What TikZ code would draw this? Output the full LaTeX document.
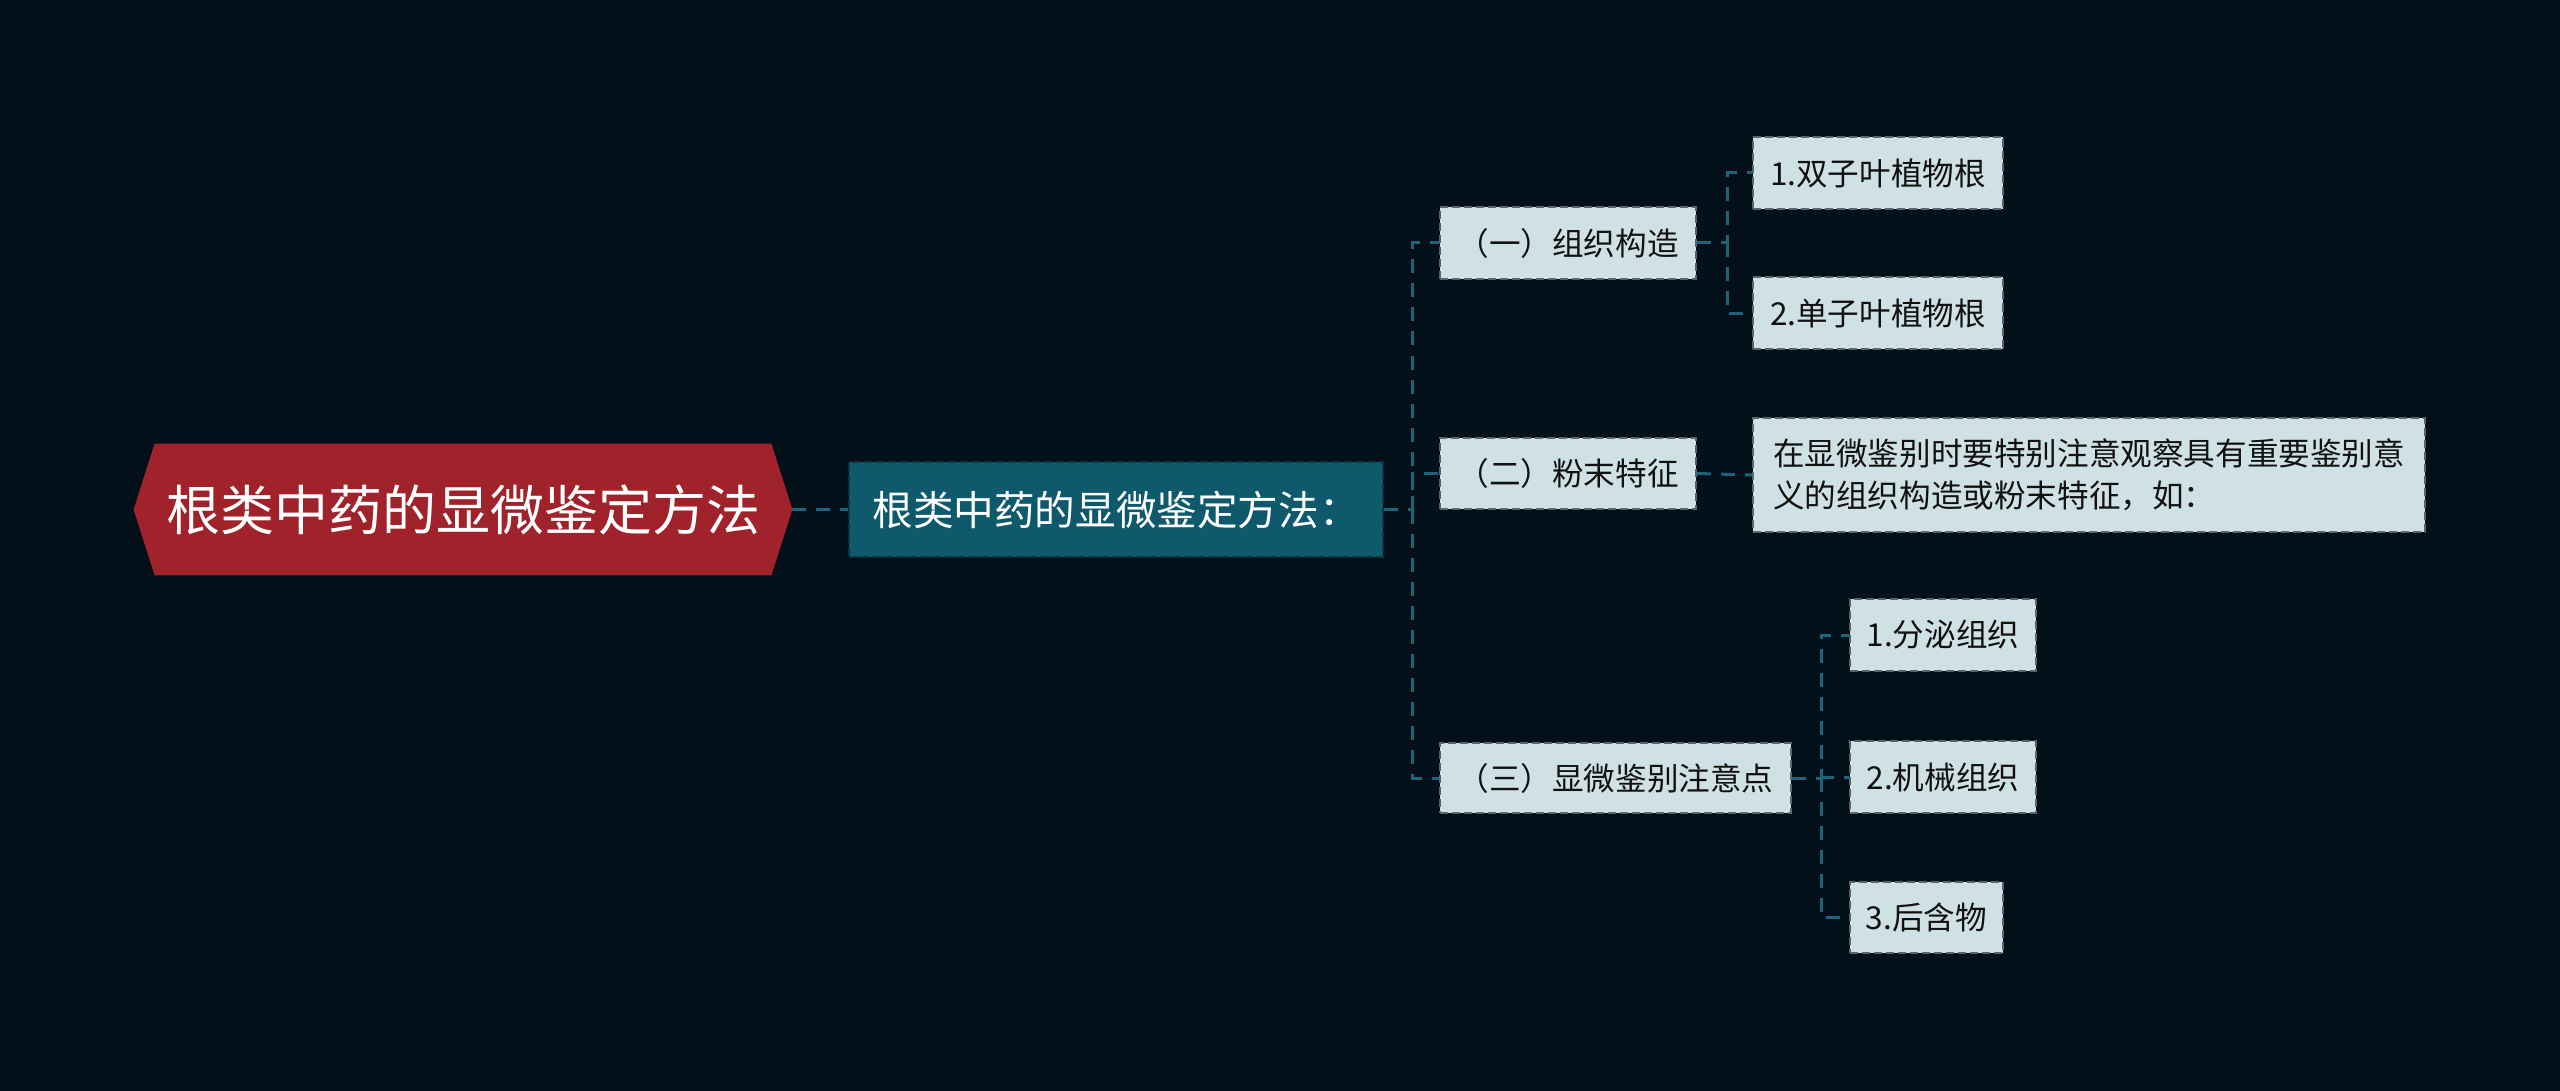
\documentclass[tikz,border=0pt]{standalone}
\usepackage{fontspec}
\setmainfont{Noto Sans CJK SC}
\usetikzlibrary{calc}
\definecolor{bgc}{HTML}{03101A}
\definecolor{rootred}{HTML}{A0222A}
\definecolor{tealfill}{HTML}{0E5A6C}
\definecolor{tealborder}{HTML}{0A3440}
\definecolor{linec}{HTML}{1E6478}
\definecolor{lightfill}{HTML}{D0E1E5}
\definecolor{lightborder}{HTML}{56676C}
\definecolor{darktext}{HTML}{111111}
\tikzset{
  conn/.style={draw=linec, line width=1.5pt, dash pattern=on 7pt off 5pt},
  lightbox/.style={rectangle, fill=lightfill, draw=lightborder, line width=1pt, dash pattern=on 4pt off 2pt, text=darktext, font=\fontsize{15.8pt}{21pt}\selectfont, inner sep=0pt, align=left},
  childbox/.style={rectangle, fill=tealfill, draw=tealborder, line width=1pt, dash pattern=on 4pt off 2pt, text=white, font=\fontsize{20.3pt}{24pt}\selectfont, inner sep=0pt},
  rootbox/.style={rectangle, text=white, font=\fontsize{27pt}{32pt}\selectfont, inner sep=0pt}
}
\begin{document}
\begin{tikzpicture}[x=0.5pt,y=-0.5pt]
\fill[bgc] (0,0) rectangle (2560,1091);
\useasboundingbox (0,0) rectangle (2560,1091);
% root hexagon
\node[rootbox, minimum width=329pt, minimum height=65.5pt] (root) at (463,509.5) {};
\fill[rootred] (root.west) -- ($(root.north west)+(21,0)$) -- ($(root.north east)+(-21,0)$) -- (root.east) -- ($(root.south east)+(-21,0)$) -- ($(root.south west)+(21,0)$) -- cycle;
\node[rootbox] (roottext) at (root.center) {根类中药的显微鉴定方法};
% child
\node[childbox, minimum width=267pt, minimum height=47.5pt] (child) at (1116,509.5) {根类中药的显微鉴定方法：};
% level 2
\node[lightbox, minimum width=128pt, minimum height=36pt] (n1) at (1568,243) {（一）组织构造};
\node[lightbox, minimum width=128pt, minimum height=35.5pt] (n2) at (1568,473.5) {（二）粉末特征};
\node[lightbox, minimum width=175.5pt, minimum height=35pt] (n3) at (1615.5,778) {（三）显微鉴别注意点};
% leaves
\node[lightbox, minimum width=125pt, minimum height=36pt] (l1) at (1878,173) {1.双子叶植物根};
\node[lightbox, minimum width=125pt, minimum height=36pt] (l2) at (1878,313.5) {2.单子叶植物根};
\node[lightbox, minimum width=336pt, minimum height=57pt] (lt) at (2089,475) {在显微鉴别时要特别注意观察具有重要鉴别意\\义的组织构造或粉末特征，如：};
\node[lightbox, minimum width=93pt, minimum height=36pt] (m1) at (1943,635) {1.分泌组织};
\node[lightbox, minimum width=93pt, minimum height=36pt] (m2) at (1943,777) {2.机械组织};
\node[lightbox, minimum width=76.5pt, minimum height=35.5pt] (m3) at (1926.5,917.5) {3.后含物};
% connectors
\draw[conn] (root.east) -- (child.west);
\coordinate (b0) at ($(child.east)+(28,0)$);
\draw[conn] (child.east) -- (b0) |- (n1.west);
\draw[conn] (b0) |- (n2.west);
\draw[conn] (b0) |- (n3.west);
\coordinate (b1) at ($(n1.east)+(30,0)$);
\draw[conn] (n1.east) -- (b1) |- (l1.west);
\draw[conn] (b1) |- (l2.west);
\draw[conn] (n2.east) -- (lt.west);
\coordinate (b3) at ($(n3.east)+(29,0)$);
\draw[conn] (n3.east) -- (b3) |- (m1.west);
\draw[conn] (b3) |- (m2.west);
\draw[conn] (b3) |- (m3.west);
\end{tikzpicture}
\end{document}
